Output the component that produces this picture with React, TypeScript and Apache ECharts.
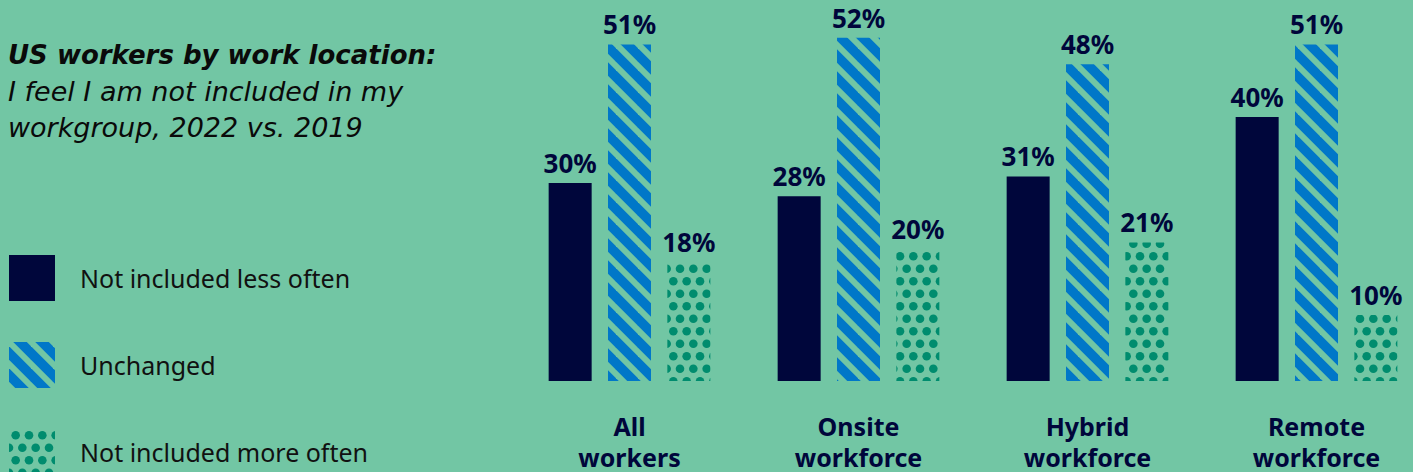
import React, { useEffect, useRef } from "react";
import * as echarts from "echarts";

const categories = ["All\nworkers", "Onsite\nworkforce", "Hybrid\nworkforce", "Remote\nworkforce"];
const seriesNames = ["Not included less often", "Unchanged", "Not included more often"];
const lessOften = [30, 28, 31, 40];
const unchanged = [51, 52, 48, 51];
const moreOften = [18, 20, 21, 10];

const BG = "#72C6A4";
const NAVY = "#00063B";
const BLUE = "#0077C8";
const DOT = "#008C6E";
const FONT = "'Noto Sans', sans-serif";
const TITLE_FONT = "'DejaVu Sans', sans-serif";

function stripePattern() {
  const s = 22;
  const c = document.createElement("canvas");
  c.width = s;
  c.height = s;
  const ctx = c.getContext("2d")!;
  ctx.fillStyle = BLUE;
  ctx.fillRect(0, 0, s, s);
  ctx.strokeStyle = BG;
  ctx.lineWidth = 6;
  for (let k = -1; k <= 1; k++) {
    ctx.beginPath();
    ctx.moveTo(-s, -s + k * s);
    ctx.lineTo(2 * s, 2 * s + k * s);
    ctx.stroke();
  }
  return { image: c, repeat: "repeat" as const };
}

function dotPattern() {
  const w = 40;
  const h = 25;
  const c = document.createElement("canvas");
  c.width = w;
  c.height = h;
  const ctx = c.getContext("2d")!;
  ctx.fillStyle = DOT;
  const r = 4.3;
  const dots: [number, number][] = [];
  for (let i = 0; i < 3; i++) dots.push([w / 6 + (i * w) / 3, h / 4]);
  for (let i = 0; i <= 3; i++) dots.push([(i * w) / 3, (3 * h) / 4]);
  const extra: [number, number][] = [];
  dots.forEach(([x, y]) => {
    extra.push([x, y - h], [x, y + h]);
  });
  [...dots, ...extra].forEach(([x, y]) => {
    ctx.beginPath();
    ctx.arc(x, y, r, 0, Math.PI * 2);
    ctx.fill();
  });
  return { image: c, repeat: "repeat" as const };
}

export default function App() {
  const ref = useRef<HTMLDivElement>(null);
  useEffect(() => {
    if (!ref.current) return;
    const chart = echarts.init(ref.current, undefined, { renderer: "svg" });
    const label = {
      show: true,
      position: "top" as const,
      distance: 7,
      formatter: "{c}%",
      fontFamily: FONT,
      fontWeight: "bold" as const,
      fontSize: 26,
      color: NAVY,
    };
    chart.setOption({
      animation: false,
      backgroundColor: BG,
      title: {
        text: "US workers by work location:",
        subtext: "I feel I am not included in my\nworkgroup, 2022 vs. 2019",
        left: 8,
        top: 37,
        padding: 0,
        itemGap: 0,
        textStyle: {
          fontFamily: TITLE_FONT,
          fontStyle: "italic",
          fontWeight: "bold",
          fontSize: 26,
          lineHeight: 36,
          color: "#0a0a0a",
        },
        subtextStyle: {
          fontFamily: TITLE_FONT,
          fontStyle: "italic",
          fontWeight: "normal",
          fontSize: 27,
          lineHeight: 36,
          color: "#0a0a0a",
        },
      },
      legend: {
        orient: "vertical",
        left: 9,
        top: 255,
        height: 260,
        padding: 0,
        itemWidth: 46,
        itemHeight: 46,
        itemGap: 41,
        icon: "rect",
        selectedMode: false,
        data: seriesNames,
        textStyle: {
          fontFamily: FONT,
          fontSize: 25,
          color: "#111111",
          padding: [0, 0, 4, 20],
        },
      },
      grid: { left: 515, width: 916, top: 18, bottom: 87 },
      xAxis: {
        type: "category",
        data: categories,
        axisLine: { show: false },
        axisTick: { show: false },
        axisLabel: {
          margin: 29,
          fontFamily: FONT,
          fontWeight: "bold",
          fontSize: 25,
          lineHeight: 31,
          color: NAVY,
        },
      },
      yAxis: { type: "value", min: 0, max: 55, show: false, splitLine: { show: false } },
      series: [
        {
          name: seriesNames[0],
          type: "bar",
          data: lessOften,
          barWidth: 43,
          barGap: "38%",
          itemStyle: { color: NAVY },
          label,
        },
        {
          name: seriesNames[1],
          type: "bar",
          data: unchanged,
          barWidth: 43,
          barGap: "38%",
          itemStyle: { color: stripePattern() },
          label,
        },
        {
          name: seriesNames[2],
          type: "bar",
          data: moreOften,
          barWidth: 43,
          barGap: "38%",
          itemStyle: { color: dotPattern() },
          label,
        },
      ],
    });
    return () => chart.dispose();
  }, []);
  return (
    <div
      ref={ref}
      style={{ position: "fixed", left: 0, top: 0, width: 1440, height: 472 }}
    />
  );
}
